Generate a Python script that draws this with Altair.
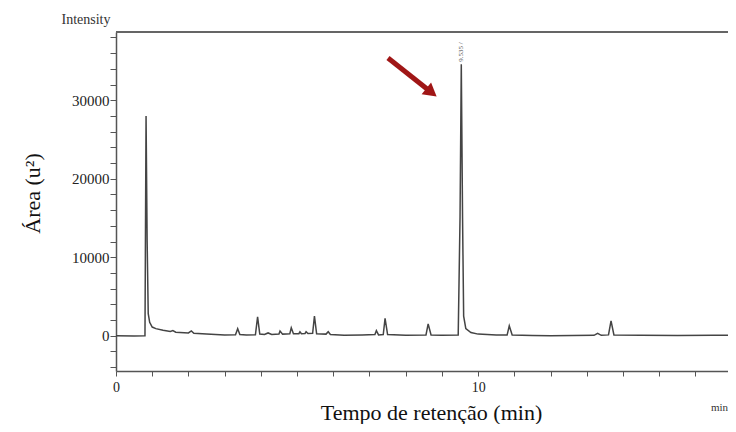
import altair as alt
import pandas as pd

# Chromatogram trace (time in min, intensity)
times = [0.0, 0.5, 0.80, 0.83, 0.86, 0.89, 0.93, 1.0, 1.1, 1.3, 1.5, 1.57, 1.65,
         2.0, 2.08, 2.15, 2.5, 3.0, 3.3, 3.36, 3.42, 3.6, 3.85, 3.91, 3.97,
         4.1, 4.2, 4.3, 4.5, 4.53, 4.6, 4.8, 4.84, 4.9, 5.05, 5.08, 5.12,
         5.22, 5.25, 5.3, 5.43, 5.48, 5.54, 5.8, 5.86, 5.92, 6.3, 6.8,
         7.15, 7.19, 7.25, 7.38, 7.43, 7.5, 8.0, 8.56, 8.62, 8.7, 9.0,
         9.45, 9.5, 9.535, 9.57, 9.6, 9.66, 9.8, 10.0, 10.5, 10.8, 10.86,
         10.94, 11.5, 12.0, 13.2, 13.3, 13.4, 13.6, 13.67, 13.75, 14.5,
         15.5, 16.5, 16.9]
intensity = [0, -30, 0, 28000, 12000, 2800, 1700, 1100, 900, 700, 550, 650, 450,
             350, 600, 300, 200, 100, 120, 900, 150, 100, 120, 2400, 200,
             150, 350, 150, 200, 600, 200, 250, 1000, 250, 250, 500, 250,
             280, 500, 280, 300, 2500, 250, 200, 500, 150, 50, 100,
             150, 650, 100, 150, 2200, 150, 50, 100, 1500, 100, 50,
             100, 15000, 34600, 15000, 2500, 900, 400, 200, 80, 80, 1250,
             100, 30, 0, 50, 300, 50, 100, 1900, 100, 50,
             30, 50, 60]

peak_label = ["9.535 /"]
peak_time = [9.535]
peak_y = [34900]

x_ticks = list(range(0, 17))
y_ticks = list(range(-4000, 38001, 2000))

df = pd.DataFrame({"t": times, "v": intensity})

W, H = 612, 339
serif = "Liberation Serif"

xscale = alt.Scale(domain=[0, 16.9], nice=False, zero=False)
yscale = alt.Scale(domain=[-4500, 38700], nice=False, zero=False)

xaxis = alt.Axis(title="Tempo de retenção (min)", values=x_ticks,
                 labelExpr="datum.value % 10 == 0 ? datum.label : ''",
                 labelOverlap=False, labelFlush=False,
                 grid=False, tickSize=5, labelPadding=4,
                 titleX=315, titleY=48, titleAlign="center",
                 titleBaseline="alphabetic",
                 labelFontSize=14, titleFontSize=22)
yaxis = alt.Axis(title="Área (u²)", values=y_ticks, format="d",
                 labelExpr="datum.value % 10000 == 0 ? datum.label : ''",
                 labelOverlap=False, labelFlush=False,
                 grid=False, tickSize=6, labelPadding=1,
                 titleX=-84, titleY=161, titleAngle=270,
                 titleAlign="center", titleBaseline="middle",
                 labelFontSize=15, titleFontSize=22)

line = alt.Chart(df).mark_line(color="#444444", strokeWidth=1.5).encode(
    x=alt.X("t:Q", scale=xscale, axis=xaxis),
    y=alt.Y("v:Q", scale=yscale, axis=yaxis),
)

top = alt.Chart(df).mark_rule(color="#666666", strokeWidth=1.5).encode(
    x=alt.value(0), x2=alt.value(W), y=alt.value(0))

plabel = alt.Chart(pd.DataFrame({"t": peak_time, "v": peak_y, "s": peak_label})).mark_text(
    angle=270, align="left", baseline="middle", fontSize=7, color="#555555", font=serif
).encode(x=alt.X("t:Q", scale=xscale, axis=xaxis),
         y=alt.Y("v:Q", scale=yscale, axis=yaxis), text="s:N")

intensity_lbl = alt.Chart(pd.DataFrame({"s": ["Intensity"]})).mark_text(
    fontSize=14, font=serif, color="#333333", align="center", baseline="middle"
).encode(x=alt.value(-30), y=alt.value(-12), text="s:N")

min_lbl = alt.Chart(pd.DataFrame({"s": ["min"]})).mark_text(
    fontSize=11, font=serif, color="#333333", align="right", baseline="middle"
).encode(x=alt.value(W), y=alt.value(376), text="s:N")

arrow_line = alt.Chart(pd.DataFrame({"a": [0]})).mark_rule(
    color="#a01616", strokeWidth=5).encode(
    x=alt.value(272), y=alt.value(26), x2=alt.value(313), y2=alt.value(58.5))

arrow_head = alt.Chart(pd.DataFrame({"a": [0]})).mark_point(
    shape="triangle-right", filled=True, color="#a01616", size=230, angle=38.5,
    opacity=1).encode(x=alt.value(315.5), y=alt.value(60.5))

chart = alt.layer(line, top, plabel, intensity_lbl, min_lbl, arrow_line, arrow_head).properties(
    width=W, height=H,
    autosize=alt.AutoSizeParams(type="none"),
    padding={"left": 108, "top": 24, "right": 0, "bottom": 53},
).configure_view(stroke=None).configure_axis(
    labelFont=serif, titleFont=serif, labelColor="#222222", titleColor="#111111",
    domainColor="#555555", tickColor="#555555", domainWidth=1.5,
    titleFontWeight="normal",
)

chart.save("out.html", embed_options={"renderer": "svg", "actions": False})
